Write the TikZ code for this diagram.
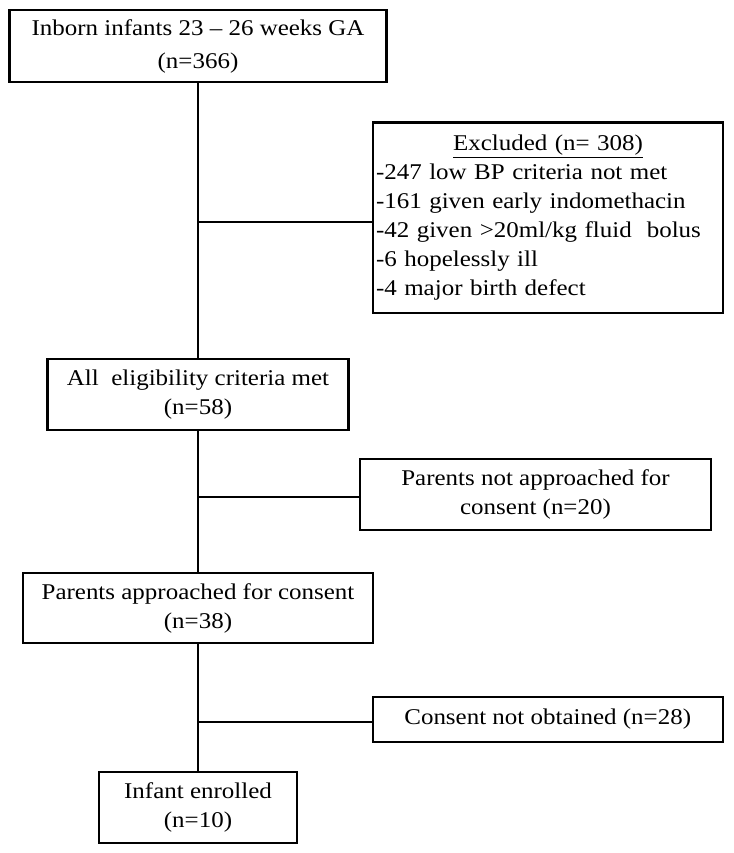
\documentclass[tikz,border=0pt]{standalone}
\usepackage{fontspec}
\setmainfont{Liberation Serif}[FakeStretch=1.11]
\usepackage{tikz}

\begin{document}
\begin{tikzpicture}[
    x=1pt, y=-1pt,
    font=\fontsize{22.5}{29}\selectfont,
    box/.style={draw=black, line width=2.4pt, align=center, inner sep=3pt},
    exclbox/.style={draw=black, line width=2.4pt, align=left, inner sep=3pt, text width=344pt},
    link/.style={draw=black, line width=2.4pt},
]
\useasboundingbox (0,0) rectangle (733,853);

% ── Main flow (left column) ──
\node[box, minimum width=377pt, minimum height=72pt, font=\fontsize{22.5}{33}\selectfont] (inborn) at (198, 46) {Inborn infants 23 -- 26 weeks GA\\(n=366)};
\node[box, minimum width=301pt, minimum height=71pt] (elig) at (198, 394.5) {All~\ eligibility criteria met\\(n=58)};
\node[box, minimum width=350pt, minimum height=70pt] (approached) at (198, 608) {Parents approached for consent\\(n=38)};
\node[box, minimum width=198pt, minimum height=71pt] (enrolled) at (198, 807.5) {Infant enrolled\\(n=10)};

% ── Side boxes (right column) ──
\node[exclbox, minimum height=190pt] (excl) at (548, 217.7) {\makebox[\linewidth][c]{\underline{Excluded (n= 308)}}\\
-247 low BP criteria not met\\
-161 given early indomethacin\\
-42 given >20ml/kg fluid~\ bolus\\
-6 hopelessly ill\\
-4 major birth defect};
\node[box, minimum width=351pt, minimum height=71pt] (notapp) at (535.5, 494.5) {Parents not approached for\\consent (n=20)};
\node[box, minimum width=350pt, minimum height=45pt] (noconsent) at (547.7, 719.5) {Consent not obtained (n=28)};

% ── Junctions on the trunk ──
\coordinate (j1) at (198, 222);
\coordinate (j2) at (198, 497);
\coordinate (j3) at (198, 722);

% ── Connectors ──
\draw[link] (inborn) -- (elig);
\draw[link] (elig) -- (approached);
\draw[link] (approached) -- (enrolled);
\draw[link] (j1) -- (j1 -| excl.west);
\draw[link] (j2) -- (j2 -| notapp.west);
\draw[link] (j3) -- (j3 -| noconsent.west);
\end{tikzpicture}
\end{document}
